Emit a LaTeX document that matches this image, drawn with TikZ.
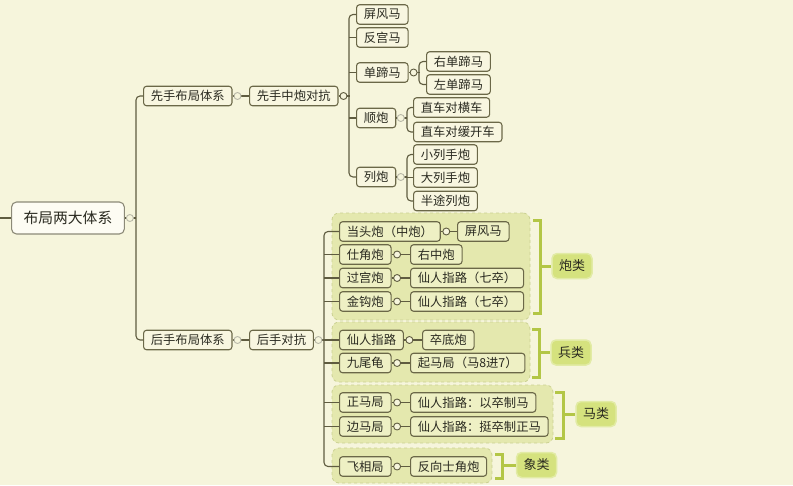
\documentclass[tikz,border=0pt]{standalone}
\usepackage{fontspec}
\newfontfamily\cjk{Noto Sans CJK SC}
\definecolor{bg}{HTML}{F6F5DC}
\definecolor{nodefill}{HTML}{F8F6E0}
\definecolor{rootfill}{HTML}{FDFCF3}
\definecolor{nodeborder}{HTML}{6B6848}
\definecolor{rootborder}{HTML}{8C8A78}
\definecolor{gnodefill}{HTML}{EEF0C4}
\definecolor{grpfill}{HTML}{E4E8AE}
\definecolor{grpborder}{HTML}{CBD192}
\definecolor{conncol}{HTML}{5F5C40}
\definecolor{faint}{HTML}{B8B8A8}
\definecolor{brkcol}{HTML}{B3C646}
\definecolor{labfill}{HTML}{D5E27E}
\definecolor{txt}{HTML}{2A2A20}
\begin{document}
\begin{tikzpicture}[x=1pt,y=-1pt,
  box/.style={draw=nodeborder, line width=1.1pt, rounded corners=3pt, fill=nodefill,
    font=\cjk\fontsize{12.3}{12.3}\selectfont, text=txt, inner xsep=7.3pt, inner ysep=0pt,
    minimum height=19.5pt, anchor=west},
  gbox/.style={box, fill=gnodefill},
  rootbox/.style={box, draw=rootborder, fill=rootfill, rounded corners=5pt,
    font=\cjk\fontsize{14.8}{14.8}\selectfont, inner xsep=12pt, minimum height=32pt},
  conn/.style={draw=conncol, line width=1.1pt, rounded corners=4pt},
  circ/.style={circle, draw=conncol, line width=0.9pt, fill=bg, inner sep=0pt, minimum size=7pt},
  fcirc/.style={circ, draw=faint},
  grp/.style={draw=grpborder, dashed, fill=grpfill, rounded corners=7pt, line width=0.8pt, inner sep=0pt},
  brk/.style={draw=brkcol, line width=3pt},
  lab/.style={draw=labfill!70, line width=1.5pt, fill=labfill, rounded corners=5pt,
    font=\cjk\fontsize{13}{13}\selectfont, text=txt, minimum width=40pt, minimum height=25pt, inner sep=0pt}]
\useasboundingbox (0,0) rectangle (793,485);
\fill[bg] (0,0) rectangle (793,485);

% groups
\node[grp, minimum width=198pt, minimum height=107pt] (g1) at (431,266.5) {};
\node[grp, minimum width=198pt, minimum height=60pt] (g2) at (431,352) {};
\node[grp, minimum width=221pt, minimum height=58pt] (g3) at (442.5,414) {};
\node[grp, minimum width=160pt, minimum height=35pt] (g4) at (412,465.5) {};

% root and level 1
\node[rootbox] (root) at (11,218) {布局两大体系};
\coordinate (lft) at (0,218);
\node[box] (xs1) at (143,96) {先手布局体系};
\node[box] (xs2) at (249,96) {先手中炮对抗};
\node[box] (hs1) at (143,340) {后手布局体系};
\node[box] (hs2) at (249,340) {后手对抗};

% upper branch
\node[box] (pfm) at (356,14.5) {屏风马};
\node[box] (fgm) at (356,37.5) {反宫马};
\node[box] (dtm) at (356,72.5) {单蹄马};
\node[box] (sp) at (356,118) {顺炮};
\node[box] (lp) at (356,177) {列炮};
\node[box] (ydtm) at (426,61.5) {右单蹄马};
\node[box] (zdtm) at (426,84.5) {左单蹄马};
\node[box] (zc1) at (413,107.5) {直车对横车};
\node[box] (zc2) at (413,132) {直车对缓开车};
\node[box] (xl) at (413,154.5) {小列手炮};
\node[box] (dl) at (413,177.5) {大列手炮};
\node[box] (bt) at (413,201) {半途列炮};

% lower branch
\node[gbox] (dtp) at (339,231.5) {当头炮（中炮）};
\node[gbox] (c1) at (457,231.5) {屏风马};
\node[gbox] (sjp) at (339,254.5) {仕角炮};
\node[gbox] (c2) at (410,254.5) {右中炮};
\node[gbox] (ggp) at (339,278) {过宫炮};
\node[gbox] (c3) at (410,278) {仙人指路（七卒）};
\node[gbox] (jgp) at (339,301.5) {金钩炮};
\node[gbox] (c4) at (410,301.5) {仙人指路（七卒）};
\node[gbox] (xrzl) at (339,340) {仙人指路};
\node[gbox] (c5) at (422,340) {卒底炮};
\node[gbox] (jwg) at (339,363) {九尾龟};
\node[gbox] (c6) at (410,363) {起马局（马8进7）};
\node[gbox] (zmj) at (339,402.5) {正马局};
\node[gbox] (c7) at (410,402.5) {仙人指路：以卒制马};
\node[gbox] (bmj) at (339,426.5) {边马局};
\node[gbox] (c8) at (410,426.5) {仙人指路：挺卒制正马};
\node[gbox] (fxj) at (339,466.5) {飞相局};
\node[gbox] (c9) at (410,466.5) {反向士角炮};

% connectors
\draw[conn] (lft) -- (root.west);
\draw[conn] (xs1.west) -- ++(-7,0) |- (hs1.west);
\draw[conn] (root.east) -- ++(11,0);
\draw[conn] (xs1.east) -- (xs2.west);
\draw[conn] (hs1.east) -- (hs2.west);
\draw[conn] (pfm.west) -- ++(-7,0) |- (lp.west);
\draw[conn] (xs2.east) -- ++(11,0);
\foreach \n in {fgm,dtm,sp} \draw[conn] (\n.west) -- ++(-7,0);
\draw[conn] (ydtm.west) -- ++(-7,0) |- (zdtm.west);
\draw[conn] (dtm.east) -- ++(11,0);
\draw[conn] (zc1.west) -- ++(-6,0) |- (zc2.west);
\draw[conn] (sp.east) -- ++(11,0);
\draw[conn] (xl.west) -- ++(-6,0) |- (bt.west);
\draw[conn] (dl.west) -- ++(-6,0);
\draw[conn] (lp.east) -- ++(11,0);
\draw[conn] (dtp.west) -- ++(-15,0) |- (fxj.west);
\draw[conn] (hs2.east) -- ++(11,0);
\foreach \n in {sjp,ggp,jgp,xrzl,jwg,zmj,bmj} \draw[conn] (\n.west) -- ++(-15,0);
\draw[conn] (dtp.east) -- (c1.west);
\draw[conn] (sjp.east) -- (c2.west);
\draw[conn] (ggp.east) -- (c3.west);
\draw[conn] (jgp.east) -- (c4.west);
\draw[conn] (xrzl.east) -- (c5.west);
\draw[conn] (jwg.east) -- (c6.west);
\draw[conn] (zmj.east) -- (c7.west);
\draw[conn] (bmj.east) -- (c8.west);
\draw[conn] (fxj.east) -- (c9.west);

% collapse circles
\path (root.east) ++(5,0) node[fcirc] (o1) {};
\path (xs1.east) ++(5,0) node[fcirc] (o2) {};
\path (hs1.east) ++(5,0) node[fcirc] (o3) {};
\path (hs2.east) ++(4.5,0) node[fcirc] (o4) {};
\path (sp.east) ++(4.5,0) node[fcirc] (o5) {};
\path (lp.east) ++(4.5,0) node[fcirc] (o6) {};
\path (xs2.east) ++(5,0) node[circ] (o7) {};
\path (dtm.east) ++(5,0) node[circ] (o8) {};
\foreach \n in {dtp,sjp,ggp,jgp,xrzl,jwg,zmj,bmj,fxj}
  \path (\n.east) ++(5.5,0) node[circ] (o\n) {};

% brackets and category labels
\node[lab] (l1) at (572,266) {炮类};
\node[lab] (l2) at (571,352.5) {兵类};
\node[lab] (l3) at (596,414) {马类};
\node[lab] (l4) at (536.5,465) {象类};
\draw[brk] (533,220) -- (540,220) -- (540,313) -- (533,313);
\draw[brk] (540,266) -- (l1.west);
\draw[brk] (532,329) -- (539,329) -- (539,377) -- (532,377);
\draw[brk] (539,352.5) -- (l2.west);
\draw[brk] (555,392) -- (563,392) -- (563,438) -- (555,438);
\draw[brk] (563,414) -- (l3.west);
\draw[brk] (495,454) -- (502,454) -- (502,478) -- (495,478);
\draw[brk] (502,465) -- (l4.west);
\end{tikzpicture}
\end{document}
